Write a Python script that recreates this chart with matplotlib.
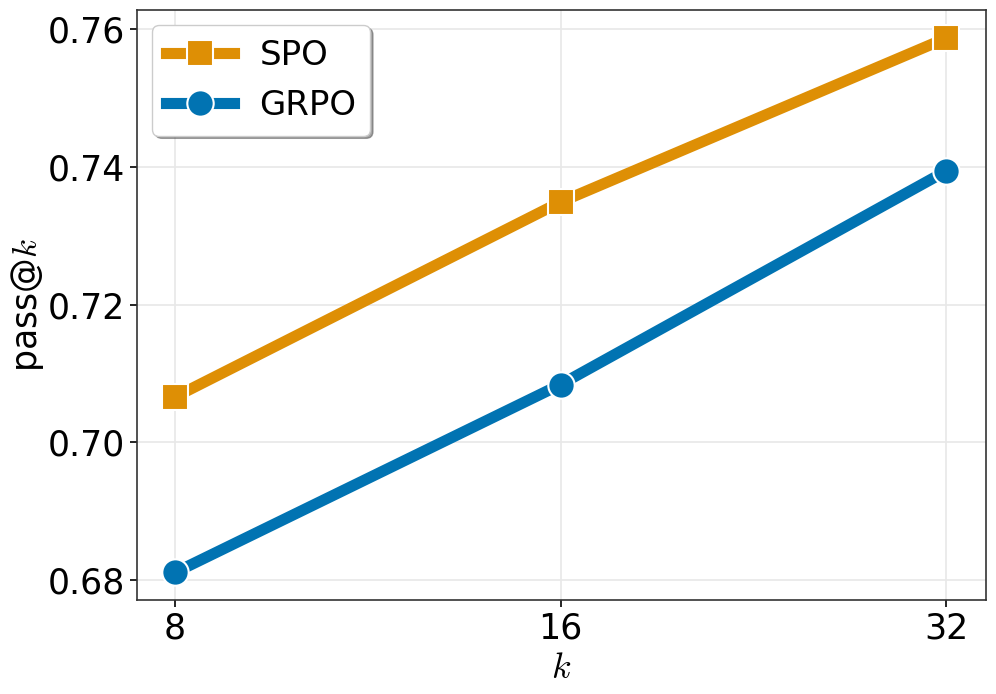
import matplotlib
matplotlib.use("Agg")
import matplotlib.pyplot as plt
from matplotlib.ticker import FixedLocator, NullLocator, FixedFormatter

plt.rcParams["mathtext.fontset"] = "cm"

k_values = [8, 16, 32]
spo = [0.7066, 0.7349, 0.7587]
grpo = [0.6811, 0.7084, 0.7394]
yticks = [0.68, 0.70, 0.72, 0.74, 0.76]

orange = "#DE8F05"
blue = "#0173B2"

fig = plt.figure(figsize=(9.96, 6.94), dpi=100)
ax = fig.add_axes([0.1376, 0.1354, 0.990 - 0.1376, 0.9856 - 0.1354])

ax.plot(k_values, spo, color=orange, lw=8, marker="s", markersize=19,
        markeredgecolor="white", markeredgewidth=1.5, label="SPO", zorder=3)
ax.plot(k_values, grpo, color=blue, lw=8, marker="o", markersize=19,
        markeredgecolor="white", markeredgewidth=1.5, label="GRPO", zorder=3)

ax.set_xscale("log", base=2)
ax.set_xlim(8 * 2 ** -0.0986, 32 * 2 ** 0.104)
ax.xaxis.set_major_locator(FixedLocator(k_values))
ax.xaxis.set_major_formatter(FixedFormatter([str(k) for k in k_values]))
ax.xaxis.set_minor_locator(NullLocator())
ax.set_ylim(0.6771, 0.7628)
ax.set_yticks(yticks)
ax.set_yticklabels([f"{v:.2f}" for v in yticks])

ax.grid(True, color="#e8e8e8", lw=1.2, zorder=0)
ax.set_axisbelow(True)
ax.tick_params(axis="both", labelsize=25, length=5, width=1.2)
for s in ax.spines.values():
    s.set_color("#333333")
    s.set_linewidth(1.2)

ax.set_xlabel("$k$", fontsize=26)
ax.set_ylabel("pass@$k$", fontsize=25, labelpad=1)

leg = ax.legend(loc="upper left", fontsize=24.5, frameon=True, shadow=True,
                fancybox=True, handlelength=2.0, handletextpad=0.75,
                borderaxespad=0.45, framealpha=1, edgecolor="#cccccc")

fig.savefig("out.png", dpi=100)
